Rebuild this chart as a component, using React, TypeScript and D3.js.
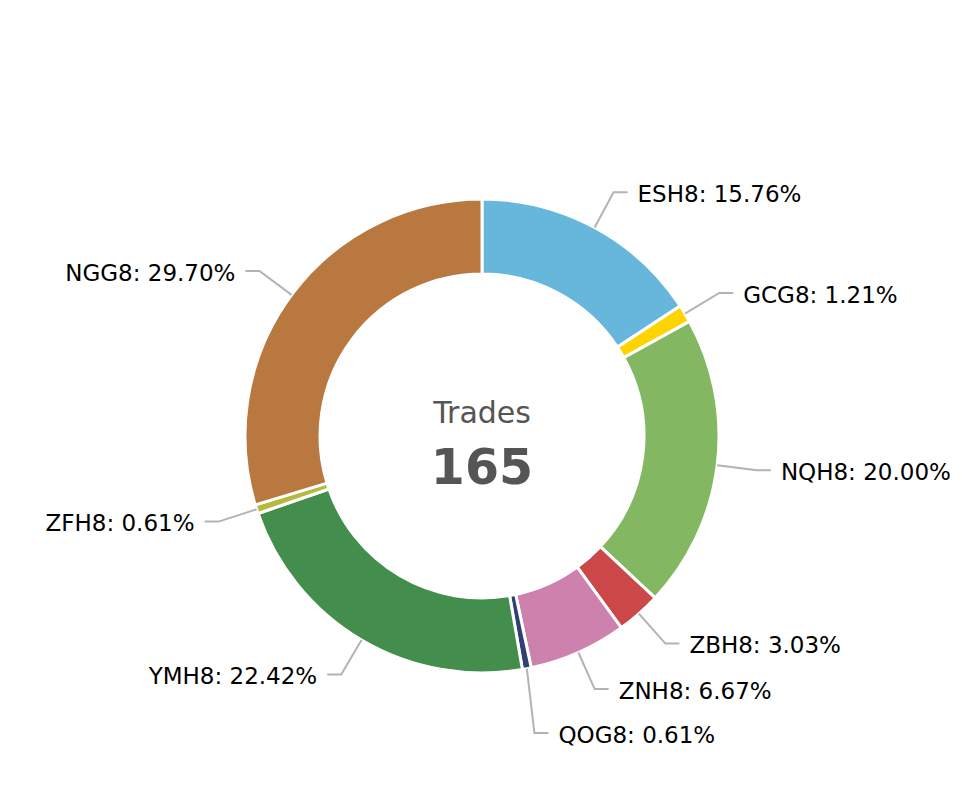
import React from 'react';
import * as d3 from 'd3';

const tickers = ['ESH8', 'GCG8', 'NQH8', 'ZBH8', 'ZNH8', 'QOG8', 'YMH8', 'ZFH8', 'NGG8'];
const trades = [26, 2, 33, 5, 11, 1, 37, 1, 49];
const colors = ['#67b7dc', '#fdd400', '#84b761', '#cc4748', '#cd82ad', '#2f4074', '#448e4d', '#b7b83f', '#b9783f'];
const centerTitle = 'Trades';

interface Slice {
    label: string;
    value: number;
}

const width = 962;
const height = 800;
const cx = 482;
const cy = 436;
const outerR = 237;
const innerR = 162;
const tickR = 277;
const hLen = 14;
const textGap = 10;
const minSpacing = 44;

export default function App() {
    const data: Slice[] = tickers.map((t, i) => ({ label: t, value: trades[i] }));
    const total = d3.sum(trades);

    const pie = d3.pie<Slice>().sort(null).value(d => d.value).startAngle(0).endAngle(2 * Math.PI);
    const arcs = pie(data);
    const arc = d3.arc<d3.PieArcDatum<Slice>>().innerRadius(innerR).outerRadius(outerR);

    // label anchors, pushed apart vertically on each side
    const labels = arcs.map(a => {
        const mid = (a.startAngle + a.endAngle) / 2;
        const sin = Math.sin(mid), cos = -Math.cos(mid);
        return {
            a,
            right: sin >= 0,
            x0: outerR * sin,
            y0: outerR * cos,
            x1: tickR * sin,
            y1: tickR * cos,
        };
    });
    [true, false].forEach(side => {
        const group = labels.filter(l => l.right === side).sort((p, q) => p.y1 - q.y1);
        for (let i = 1; i < group.length; i++) {
            if (group[i].y1 < group[i - 1].y1 + minSpacing) group[i].y1 = group[i - 1].y1 + minSpacing;
        }
    });

    const fmt = d3.format('.2f');

    return (
        <div style={{ position: 'absolute', left: 0, top: 0 }}>
            <svg width={width} height={height} style={{ display: 'block', fontFamily: 'DejaVu Sans, Verdana, sans-serif' }}>
                <rect width={width} height={height} fill="#fff" />
                <g transform={`translate(${cx},${cy})`}>
                    {arcs.map((a, i) => (
                        <path key={a.data.label} d={arc(a) || ''} fill={colors[i]} stroke="#fff" strokeWidth={3} />
                    ))}
                    {labels.map(l => {
                        const dir = l.right ? 1 : -1;
                        const x2 = l.x1 + dir * hLen;
                        return (
                            <g key={l.a.data.label}>
                                <polyline
                                    points={`${l.x0},${l.y0} ${l.x1},${l.y1} ${x2},${l.y1}`}
                                    fill="none"
                                    stroke="#b3b3b3"
                                    strokeWidth={2}
                                />
                                <text
                                    x={x2 + dir * textGap}
                                    y={l.y1}
                                    dy="0.42em"
                                    textAnchor={l.right ? 'start' : 'end'}
                                    fontSize={23}
                                    fill="#000"
                                >
                                    {`${l.a.data.label}: ${fmt((l.a.data.value / total) * 100)}%`}
                                </text>
                            </g>
                        );
                    })}
                    <text x={0} y={-13} textAnchor="middle" fontSize={30} fill="#555">{centerTitle}</text>
                    <text x={0} y={48} textAnchor="middle" fontSize={49} fontWeight="bold" fill="#555">{total}</text>
                </g>
            </svg>
        </div>
    );
}
